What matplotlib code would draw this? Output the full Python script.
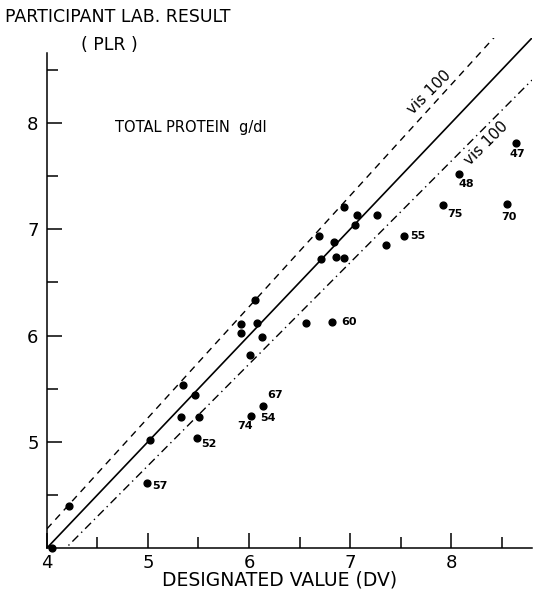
import matplotlib.pyplot as plt
import numpy as np

# designated value (DV) vs participant lab result (PLR), total protein g/dl
dv = [4.05, 4.22, 4.99, 5.02, 5.33, 5.35, 5.47, 5.49, 5.51, 5.92, 5.92, 6.01,
      6.02, 6.06, 6.08, 6.13, 6.14, 6.56, 6.82, 6.69, 6.71, 6.84, 6.86, 6.94,
      6.94, 7.05, 7.07, 7.27, 7.36, 7.53, 7.92, 8.08, 8.55, 8.64]
plr = [4.00, 4.40, 4.61, 5.02, 5.23, 5.53, 5.44, 5.04, 5.23, 6.11, 6.02, 5.82,
       5.24, 6.33, 6.12, 5.99, 5.34, 6.12, 6.13, 6.94, 6.72, 6.88, 6.74, 6.73,
       7.21, 7.04, 7.13, 7.13, 6.85, 6.94, 7.23, 7.52, 7.24, 7.81]
lab_ids = ["", "", "57", "", "", "", "", "52", "", "", "", "",
           "74", "", "", "", "67", "", "60", "", "", "", "", "",
           "", "", "", "", "", "55", "75", "48", "70", "47"]
extra_ids = {12: "54"}  # second lab on the same dot

vis_frac = 0.045  # vis 100 band

# label offsets in pixels (dx, dy)
offs = {"57": (13, -3), "52": (11, -6), "74": (-6, -10), "54": (17, -2),
        "67": (12, 11), "60": (17, 0), "55": (14, 0), "75": (12, -9),
        "48": (7, -10), "70": (2, -13), "47": (2, -11)}

fig = plt.figure(figsize=(5.33, 5.92), dpi=100)
ax = fig.add_axes([0.088, 0.0743, 0.91, 0.8615])

xx = np.linspace(4, 8.8, 200)
ax.plot(xx, xx, color="black", lw=1.2)
ax.plot(xx, xx * (1 + vis_frac), color="black", lw=1.0, ls=(0, (5, 4)))
ax.plot(xx, xx * (1 - vis_frac), color="black", lw=1.0, ls=(0, (6, 3, 1, 3)))

ax.scatter(dv, plr, s=24, color="black", zorder=3, clip_on=False)

for i, lab in enumerate(lab_ids):
    if lab:
        ax.annotate(lab, (dv[i], plr[i]), xytext=offs[lab], textcoords="offset pixels",
                    ha="center", va="center", fontsize=8, fontweight="bold")
for i, lab in extra_ids.items():
    ax.annotate(lab, (dv[i], plr[i]), xytext=offs[lab], textcoords="offset pixels",
                ha="center", va="center", fontsize=8, fontweight="bold")

ax.set_xlim(4, 8.8)
ax.set_ylim(4, 8.8)
ax.spines["top"].set_visible(False)
ax.spines["right"].set_visible(False)
ax.spines["left"].set_bounds(4, 8.66)
ax.spines["left"].set_linewidth(1.1)
ax.spines["bottom"].set_linewidth(1.1)

ax.set_xticks([4, 5, 6, 7, 8])
ax.set_xticks([4.5, 5.5, 6.5, 7.5, 8.5], minor=True)
ax.set_yticks([5, 6, 7, 8])
ax.set_yticks([4.5, 5.5, 6.5, 7.5, 8.5], minor=True)
ax.tick_params(direction="in", which="major", length=11, width=1.1, labelsize=13, pad=4)
ax.tick_params(direction="in", which="minor", length=8, width=1.1)
ax.tick_params(axis="y", pad=6)

ax.text(4.67, 7.96, "TOTAL PROTEIN  g/dl", fontsize=10.5, ha="left", va="center")
ax.text(7.78, 8.29, "vis 100", fontsize=11, rotation=45, ha="center", va="center")
ax.text(8.35, 7.81, "vis 100", fontsize=11, rotation=45, ha="center", va="center")

fig.text(0.01, 0.972, "PARTICIPANT LAB. RESULT", fontsize=12.5, ha="left", va="center")
fig.text(0.205, 0.924, "( PLR )", fontsize=12.5, ha="center", va="center")
fig.text(0.525, 0.021, "DESIGNATED VALUE (DV)", fontsize=13.5, ha="center", va="center")

plt.savefig("out.png", dpi=100)
